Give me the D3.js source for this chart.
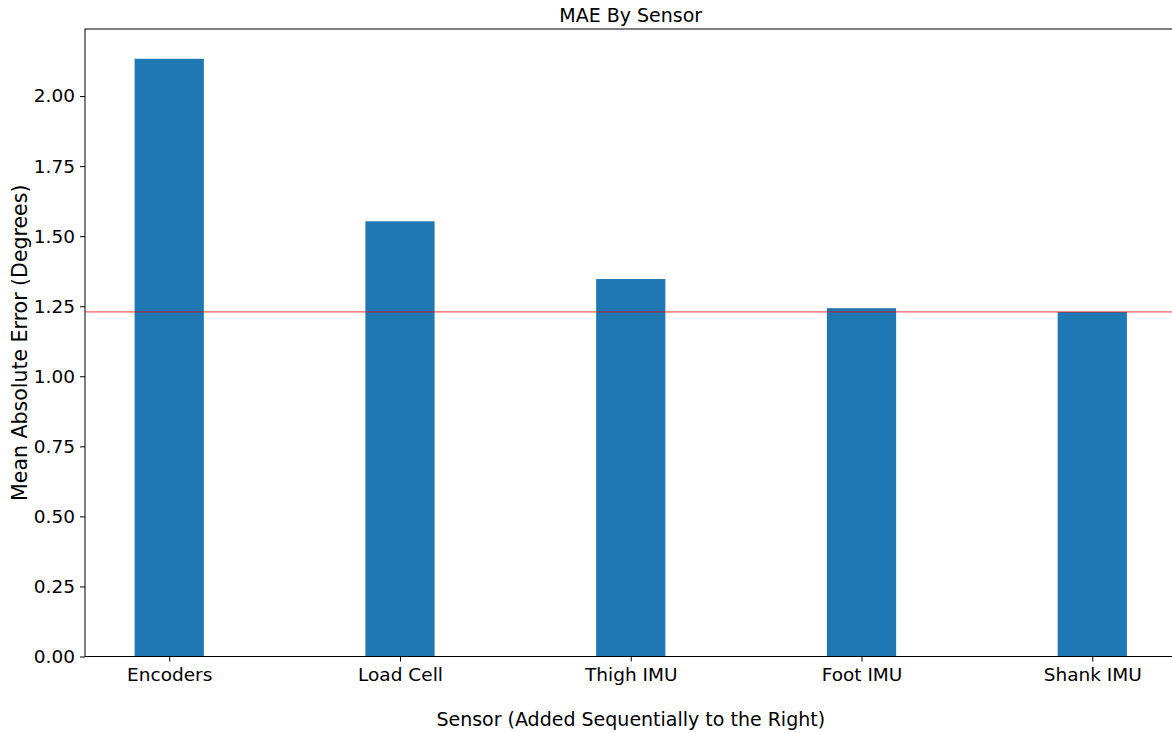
<!DOCTYPE html>
<html>
<head>
<meta charset="utf-8">
<script src="https://cdn.jsdelivr.net/npm/d3@7"></script>
<style>
  body { margin: 0; background: #fff; }
  text { font-family: "DejaVu Sans", sans-serif; fill: #000; }
</style>
</head>
<body>
<script>
const sensors = ["Encoders", "Load Cell", "Thigh IMU", "Foot IMU", "Shank IMU"];
const mae = [2.133, 1.553, 1.347, 1.243, 1.2295];
const yTicks = [0, 0.25, 0.5, 0.75, 1.0, 1.25, 1.5, 1.75, 2.0];

const width = 1172, height = 733;
const plotLeft = 85, plotTop = 29, plotBottom = 656.5;

let svg = d3.select("body")
  .append("svg")
  .attr("width", width)
  .attr("height", height);

// matplotlib-style limits: bars 0.3 wide with 5% margin
const x = d3.scaleLinear()
  .domain([-0.365, 4.365])
  .range([plotLeft, 1176.5]);

const y = d3.scaleLinear()
  .domain([0, 2.2393])
  .range([plotBottom, plotTop]);

const barW = x(0.3) - x(0);

svg.selectAll(".bar")
  .data(mae)
  .enter()
  .append("rect")
  .attr("class", "bar")
  .attr("x", (d, i) => x(i) - barW / 2)
  .attr("y", d => y(d))
  .attr("width", barW)
  .attr("height", d => y(0) - y(d))
  .style("fill", "#1f77b4");

// reference line at the best (lowest) error
const best = d3.min(mae);
svg.append("line")
  .attr("x1", plotLeft).attr("x2", width)
  .attr("y1", y(best)).attr("y2", y(best))
  .style("stroke", "red")
  .style("stroke-opacity", 0.6)
  .style("stroke-width", 1.2);

// y axis
const yAxis = svg.append("g")
  .attr("transform", `translate(${plotLeft},0)`)
  .call(d3.axisLeft(y).tickValues(yTicks).tickFormat(d3.format(".2f")).tickSize(5).tickPadding(5));
yAxis.select(".domain").remove();
yAxis.selectAll("line").style("stroke", "#000").style("stroke-width", 1);
yAxis.selectAll("text").style("font-size", "18.5px").style("font-family", "DejaVu Sans");

// x axis
const xAxis = svg.append("g")
  .attr("transform", `translate(0,${plotBottom})`)
  .call(d3.axisBottom(x).tickValues(d3.range(sensors.length)).tickFormat(i => sensors[i]).tickSize(5).tickPadding(6));
xAxis.select(".domain").remove();
xAxis.selectAll("line").style("stroke", "#000").style("stroke-width", 1);
xAxis.selectAll("text").style("font-size", "18.5px").style("font-family", "DejaVu Sans");

// frame
svg.append("rect")
  .attr("x", plotLeft)
  .attr("y", plotTop)
  .attr("width", x.range()[1] - plotLeft)
  .attr("height", plotBottom - plotTop)
  .style("fill", "none")
  .style("stroke", "#000")
  .style("stroke-width", 1);

svg.append("text")
  .attr("x", (plotLeft + x.range()[1]) / 2)
  .attr("y", 22)
  .style("text-anchor", "middle")
  .style("font-size", "19px")
  .text("MAE By Sensor");

svg.append("text")
  .attr("x", (plotLeft + x.range()[1]) / 2)
  .attr("y", 726)
  .style("text-anchor", "middle")
  .style("font-size", "19px")
  .text("Sensor (Added Sequentially to the Right)");

svg.append("text")
  .attr("transform", `translate(27,${(plotTop + plotBottom) / 2}) rotate(-90)`)
  .style("text-anchor", "middle")
  .style("font-size", "20.5px")
  .text("Mean Absolute Error (Degrees)");
</script>
</body>
</html>
